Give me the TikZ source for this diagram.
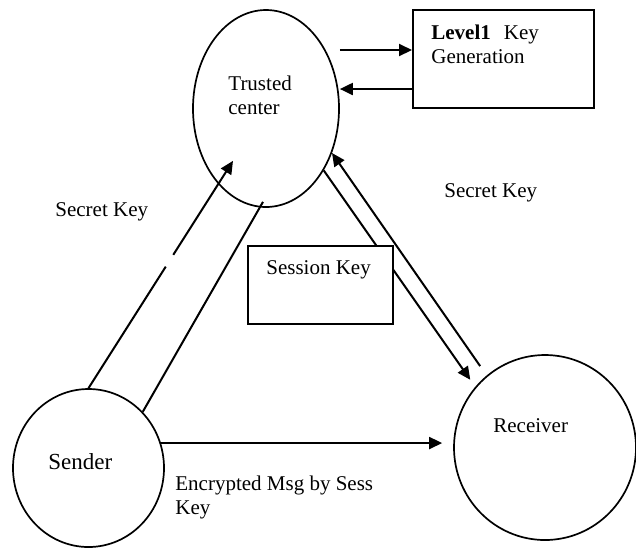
\documentclass[tikz,border=0pt]{standalone}
\usepackage{fontspec}
\setmainfont{Liberation Serif}
\usetikzlibrary{arrows.meta,shapes.geometric}

\begin{document}
\begin{tikzpicture}[x=0.5pt,y=-0.5pt,
    >={Triangle[length=6.5pt,width=6pt]},
    every node/.style={font=\fontsize{10.5}{12}\selectfont},
    party/.style={draw,ellipse,line width=0.85pt,inner sep=0pt},
    keybox/.style={draw,rectangle,line width=1pt,fill=white,inner sep=0pt},
    txt/.style={inner sep=0pt,align=left},
    link/.style={line width=1pt}]
      \useasboundingbox (0,0) rectangle (636,548);

      \node[party,minimum width=73pt,minimum height=98.5pt] (trusted) at (266,108.5) {};
      \node[party,minimum width=75.5pt,minimum height=79pt] (sender) at (88.5,468) {};
      \node[party,minimum width=91pt,minimum height=92.5pt] (receiver) at (545,447.5) {};
      \node[keybox,minimum width=90.5pt,minimum height=49pt] (level) at (503.5,59) {};

      \node[txt,anchor=north west] (trusted-txt) at (228,75.5) {Trusted\\center};
      \node[txt,anchor=base west,font=\fontsize{11.5}{13}\selectfont] (sender-txt) at (48,469) {Sender};
      \node[txt,anchor=base west] (receiver-txt) at (493,432) {Receiver};
      \node[txt,anchor=north west] (level-txt) at (431,25) {\textbf{Level1}\hspace{6.5pt}Key\\Generation};
      \node[txt,anchor=base west] (secret-l) at (55,216) {Secret Key};
      \node[txt,anchor=base west] (secret-r) at (444,197) {Secret Key};
      \node[txt,anchor=north west] (msg) at (175,476) {Encrypted Msg by Sess\\Key};

      \draw[link,->] ([yshift=4.5pt]level.west -| trusted.east) -- ([yshift=4.5pt]level.west);
      \draw[link,->] ([yshift=-15pt]level.west) -- ([yshift=-15pt]level.west -| trusted.east);

      \draw[link,->,dash pattern=on 72pt off 7pt on 200pt] (sender.north) -- ([xshift=-16.5pt,yshift=23.5pt]trusted.south);
      \draw[link] ([xshift=-1.5pt,yshift=3pt]trusted.south) -- (sender.46);

      \draw[link,->,shorten >=4.3pt] (trusted.-47) -- (receiver.139);
      \draw[link,->,shorten <=5.7pt] (receiver.129) -- (trusted.-34);

      \draw[link,->,shorten >=5.5pt] (sender.19) -- (sender.19 -| receiver.west);

      % session key box sits on top of the trusted -> receiver line
      \node[keybox,minimum width=72.5pt,minimum height=39pt] (session) at (320.5,285) {};
      \node[txt,anchor=base west] (session-txt) at (266,274) {Session Key};
\end{tikzpicture}
\end{document}
